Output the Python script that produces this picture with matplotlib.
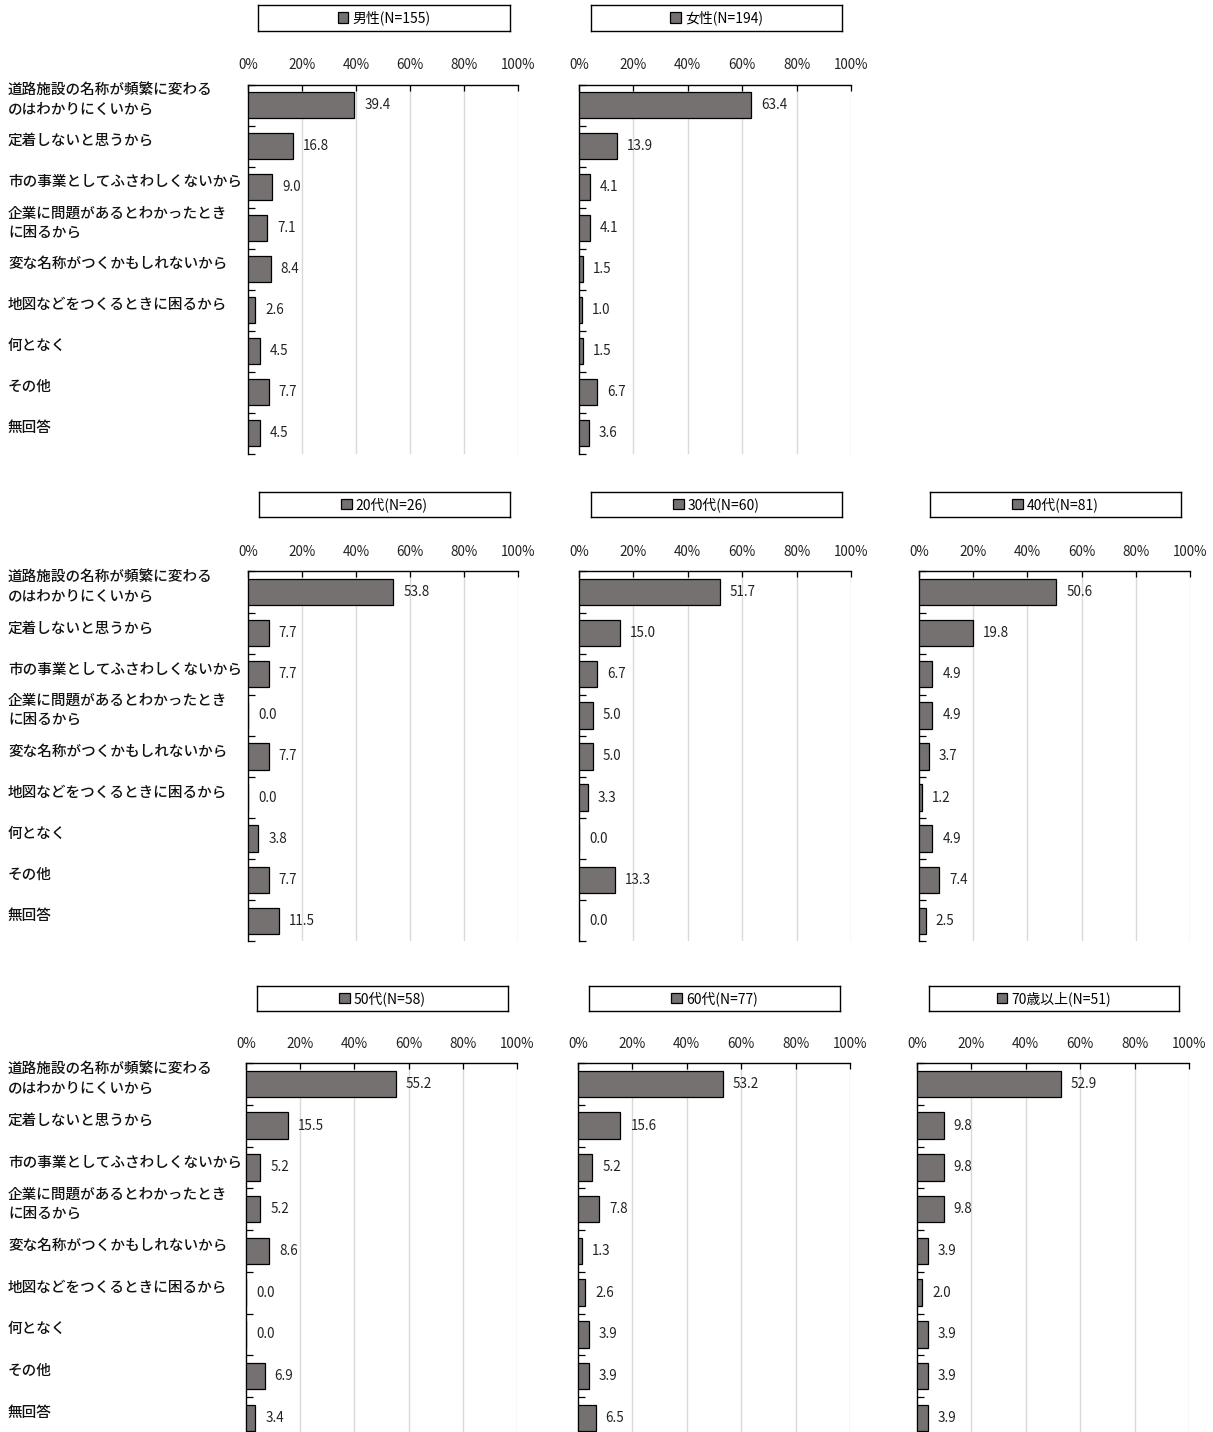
import matplotlib
matplotlib.use("Agg")
import matplotlib.pyplot as plt
from matplotlib.patches import Patch

plt.rcParams['font.family'] = ['Noto Sans CJK JP', 'DejaVu Sans']

categories = [
    "道路施設の名称が頻繁に変わる\nのはわかりにくいから",
    "定着しないと思うから",
    "市の事業としてふさわしくないから",
    "企業に問題があるとわかったとき\nに困るから",
    "変な名称がつくかもしれないから",
    "地図などをつくるときに困るから",
    "何となく",
    "その他",
    "無回答",
]

group_names = ["男性(N=155)", "女性(N=194)",
               "20代(N=26)", "30代(N=60)", "40代(N=81)",
               "50代(N=58)", "60代(N=77)", "70歳以上(N=51)"]

male = [39.4, 16.8, 9.0, 7.1, 8.4, 2.6, 4.5, 7.7, 4.5]
female = [63.4, 13.9, 4.1, 4.1, 1.5, 1.0, 1.5, 6.7, 3.6]
age20 = [53.8, 7.7, 7.7, 0.0, 7.7, 0.0, 3.8, 7.7, 11.5]
age30 = [51.7, 15.0, 6.7, 5.0, 5.0, 3.3, 0.0, 13.3, 0.0]
age40 = [50.6, 19.8, 4.9, 4.9, 3.7, 1.2, 4.9, 7.4, 2.5]
age50 = [55.2, 15.5, 5.2, 5.2, 8.6, 0.0, 0.0, 6.9, 3.4]
age60 = [53.2, 15.6, 5.2, 7.8, 1.3, 2.6, 3.9, 3.9, 6.5]
age70 = [52.9, 9.8, 9.8, 9.8, 3.9, 2.0, 3.9, 3.9, 3.9]

xticks = [0, 20, 40, 60, 80, 100]
xtick_labels = ["0%", "20%", "40%", "60%", "80%", "100%"]

W, H = 1213, 1432
BAR = "#767171"
GRID = "#d9d9d9"

fig = plt.figure(figsize=(W / 100, H / 100), dpi=100)


def rect(x0, x1, ytop, ybot):
    return [x0 / W, 1 - ybot / H, (x1 - x0) / W, (ybot - ytop) / H]


# panel layout in pixels: (name, values, x0, x1, ytop, slot, legend box)
panels = [
    (group_names[0], male, 248, 518, 84.5, 41.0, (258, 510, 5, 31)),
    (group_names[1], female, 579, 851, 84.5, 41.0, (591, 842, 5, 31)),
    (group_names[2], age20, 248, 518, 571.5, 41.1, (259, 510, 492, 517)),
    (group_names[3], age30, 579, 851, 571.5, 41.1, (591, 842, 492, 517)),
    (group_names[4], age40, 919, 1190, 571.5, 41.1, (930, 1181, 492, 517)),
    (group_names[5], age50, 246, 517, 1063, 41.75, (257, 508, 986, 1011)),
    (group_names[6], age60, 578, 850, 1063, 41.75, (589, 840, 986, 1011)),
    (group_names[7], age70, 917, 1189, 1063, 41.75, (929, 1179, 986, 1011)),
]

n = len(categories)
for name, vals, x0, x1, ytop, slot, lg in panels:
    ybot = ytop + slot * n
    ax = fig.add_axes(rect(x0, x1, ytop, ybot))
    ypos = [i + 0.5 for i in range(n)]
    ax.barh(ypos, vals, height=0.64, color=BAR, edgecolor="black",
            linewidth=0.9, zorder=3)
    ax.set_xlim(0, 100)
    ax.set_ylim(n, 0)
    for v in xticks[1:]:
        ax.axvline(v, color=GRID, linewidth=1.0, zorder=1)
    ax.xaxis.tick_top()
    ax.set_xticks(xticks)
    ax.set_xticklabels(xtick_labels, fontsize=9.7, color="#222222")
    ax.tick_params(axis="x", direction="in", length=4, width=0.9, pad=9,
                   color="black")
    ax.set_yticks([])
    ax.set_yticks(range(0, n + 1), minor=True)
    ax.tick_params(axis="y", which="minor", direction="in", length=5,
                   width=0.9, color="black")
    for s in ("right", "bottom"):
        ax.spines[s].set_visible(False)
    ax.spines["top"].set_linewidth(1.0)
    ax.spines["left"].set_linewidth(1.0)
    for y, v in zip(ypos, vals):
        ax.annotate(f"{v:.1f}", xy=(v, y), xytext=(10, 0),
                    textcoords="offset pixels", va="center", ha="left",
                    fontsize=9.7, color="#222222")

    # legend box
    lx0, lx1, ly0, ly1 = lg
    lax = fig.add_axes(rect(lx0, lx1, ly0, ly1))
    lax.set_xticks([])
    lax.set_yticks([])
    for s in lax.spines.values():
        s.set_linewidth(1.0)
        s.set_color("black")
    lax.legend(handles=[Patch(facecolor=BAR, edgecolor="black", linewidth=0.9,
                              label=name)],
               loc="center", frameon=False, fontsize=10,
               handlelength=0.75, handleheight=0.75, handletextpad=0.3,
               borderpad=0, borderaxespad=0)

# category labels, left of each row
rows = [(84.5, 41.0, 8), (571.5, 41.1, 8), (1063, 41.75, 8)]
for ytop, slot, xl in rows:
    for i, c in enumerate(categories):
        yc = ytop + slot * (i + 0.5) - 5
        fig.text(xl / W, 1 - yc / H, c, ha="left", va="center",
                 fontsize=10.5, fontweight="medium", linespacing=1.45,
                 color="#111111")

fig.savefig("out.png", dpi=100)
